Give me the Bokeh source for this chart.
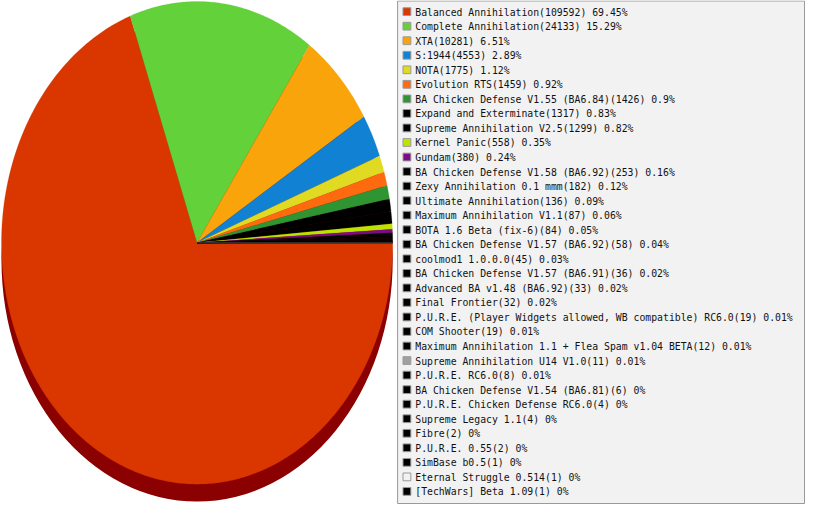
import numpy as np
from bokeh.plotting import figure
from bokeh.models import Range1d, ColumnDataSource
from bokeh.core.properties import value
from bokeh.embed import file_html
from bokeh.resources import INLINE

# ---- data ----
names = [
    "Balanced Annihilation", "Complete Annihilation", "XTA", "S:1944", "NOTA",
    "Evolution RTS", "BA Chicken Defense V1.55 (BA6.84)", "Expand and Exterminate",
    "Supreme Annihilation V2.5", "Kernel Panic", "Gundam",
    "BA Chicken Defense V1.58 (BA6.92)", "Zexy Annihilation 0.1 mmm",
    "Ultimate Annihilation", "Maximum Annihilation V1.1", "BOTA 1.6 Beta (fix-6)",
    "BA Chicken Defense V1.57 (BA6.92)", "coolmod1 1.0.0.0",
    "BA Chicken Defense V1.57 (BA6.91)", "Advanced BA v1.48 (BA6.92)",
    "Final Frontier", "P.U.R.E. (Player Widgets allowed, WB compatible) RC6.0",
    "COM Shooter", "Maximum Annihilation 1.1 + Flea Spam v1.04 BETA",
    "Supreme Annihilation U14 V1.0", "P.U.R.E. RC6.0",
    "BA Chicken Defense V1.54 (BA6.81)", "P.U.R.E. Chicken Defense RC6.0",
    "Supreme Legacy 1.1", "Fibre", "P.U.R.E. 0.55", "SimBase b0.5",
    "Eternal Struggle 0.514", "[TechWars] Beta 1.09",
]
counts = [109592, 24133, 10281, 4553, 1775, 1459, 1426, 1317, 1299, 558, 380,
          253, 182, 136, 87, 84, 58, 45, 36, 33, 32, 19, 19, 12, 11, 8, 6, 4, 4,
          2, 2, 1, 1, 1]
colors = ["#d93600", "#63d13a", "#f9a40a", "#1181d3", "#e0db22", "#ff6a10",
          "#2e9532", "#000000", "#000000", "#bde400", "#7e0a85"] + \
         ["#000000"] * 13 + ["#a0a0a0", "#000000", "#000000", "#000000",
                             "#000000", "#000000", "#000000", "#000000",
                             "#f2f2f2", "#000000"]

# ---- layout constants (reference pixel space) ----
CX, CY, RX, RY = 200.5, 250.0, 199.5, 249.0
SHADOW_DY = 18.0
ROW0, ROWH = 12.0, 15.0

total = float(sum(counts))
fracs = np.array(counts) / total
edges = np.concatenate([[0.0], np.cumsum(fracs)]) * 2 * np.pi

xs, ys = [], []
for a0, a1 in zip(edges[:-1], edges[1:]):
    n = max(3, int(np.ceil((a1 - a0) / (2 * np.pi) * 600)) + 2)
    t = np.linspace(a0, a1, n)
    xs.append([CX] + list(CX + RX * np.cos(t)))
    ys.append([CY] + list(CY + RY * np.sin(t)))

def fmt(v):
    s = f"{v:.2f}".rstrip("0").rstrip(".")
    return s

labels = [f"{n}({c}) {fmt(f * 100)}%" for n, c, f in zip(names, counts, fracs)]
idx = np.arange(len(names))
row_y = ROW0 + ROWH * idx

p = figure(width=805, height=504, output_backend="svg", toolbar_location=None,
           x_range=Range1d(0, 821), y_range=Range1d(520, 0), min_border=0)
p.axis.visible = False
p.grid.visible = False
p.outline_line_color = None
p.background_fill_color = "white"

# shadow
p.ellipse(x=[CX], y=[CY + SHADOW_DY], width=[2 * RX], height=[2 * RY],
          fill_color="#8b0000", line_color=None)

# slices
src = ColumnDataSource(dict(xs=xs, ys=ys, color=colors))
p.patches("xs", "ys", source=src, fill_color="color", line_color="color",
          line_width=0.2)

# legend box
p.quad(left=[405], right=[820], top=[0.5], bottom=[519], fill_color="#f2f2f2",
       line_color="#999999", line_width=1)

lsrc = ColumnDataSource(dict(x=[414.5] * len(names), y=row_y - 0.5,
                             tx=[423] * len(names), ty=row_y,
                             color=colors, label=labels))
p.rect(x="x", y="y", width=8, height=8, source=lsrc, fill_color="color",
       line_color="#999999", line_width=1)
p.text(x="tx", y="ty", text="label", source=lsrc, text_font=value("DejaVu Sans Mono"),
       text_font_size="9.8px", text_baseline="middle", text_align="left",
       text_color="#111111")

open("out.html", "w").write(file_html(p, INLINE))
